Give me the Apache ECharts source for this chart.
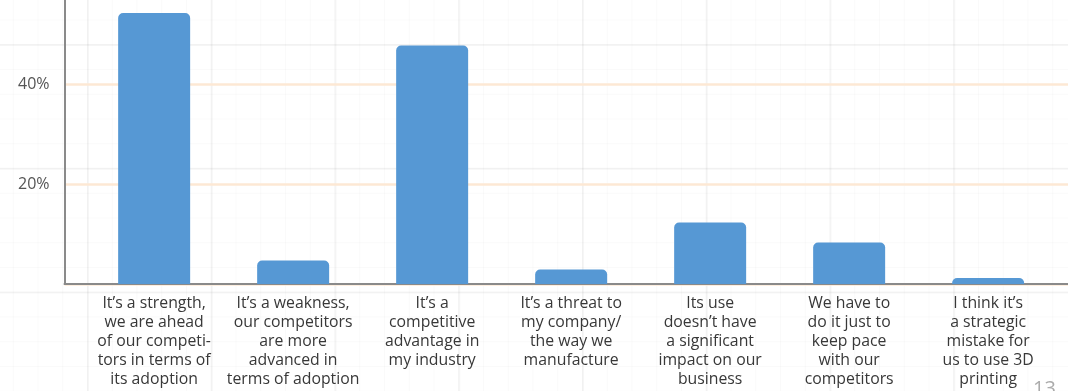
<!DOCTYPE html>
<html>
<head>
<meta charset="utf-8">
<script src="https://cdn.jsdelivr.net/npm/echarts@6/dist/echarts.min.js"></script>
<style>
  html, body { margin: 0; padding: 0; background: #fff; }
  #chart {
    width: 1068px;
    height: 391px;
    background-color: #fff;
    /* faint slide grid behind the chart */
    background-image:
      linear-gradient(to right, rgba(0,0,0,0.035) 1.5px, transparent 1.5px),
      linear-gradient(to bottom, rgba(0,0,0,0.035) 1.5px, transparent 1.5px),
      linear-gradient(to right, rgba(0,0,0,0.018) 1px, transparent 1px),
      linear-gradient(to bottom, rgba(0,0,0,0.018) 1px, transparent 1px);
    background-size: 123.75px 100%, 100% 123.75px, 24.75px 100%, 100% 24.75px;
    background-position: 87px 0, 0 44px, 12.75px 0, 0 19.5px;
  }
</style>
</head>
<body>
<div id="chart"></div>
<script>
// Answer options (categories) and share of respondents (%)
const categories = [
  'It\u2019s a strength,\nwe are ahead\nof our competi-\ntors in terms of\nits adoption',
  'It\u2019s a weakness,\nour competitors\nare more\nadvanced in\nterms of adoption',
  'It\u2019s a\ncompetitive\nadvantage in\nmy industry',
  'It\u2019s a threat to\nmy company/\nthe way we\nmanufacture',
  'Its use\ndoesn\u2019t have\na significant\nimpact on our\nbusiness',
  'We have to\ndo it just to\nkeep pace\nwith our\ncompetitors',
  'I think it\u2019s\na strategic\nmistake for\nus to use 3D\nprinting'
];
const shares = [54.2, 4.7, 47.7, 2.9, 12.3, 8.3, 1.2];
const yTickLabels = { 20: '20%', 40: '40%' };
const pageNumber = '13';

const FONT = '"Open Sans", "Noto Sans", sans-serif';
const chart = echarts.init(document.getElementById('chart'), null, { renderer: 'canvas' });

const yRange = { min: 0, max: 60, interval: 20 };

chart.setOption({
  backgroundColor: 'transparent',
  animation: false,
  grid: [
    // frame: axis lines, y labels and gridlines
    { left: 64.5, right: 0, top: -16, bottom: 107, containLabel: false, outerBoundsMode: 'none' },
    // bars and category labels
    { left: 84.65, right: 10.35, top: -16, bottom: 107, containLabel: false, outerBoundsMode: 'none' }
  ],
  xAxis: [
    {
      gridIndex: 0, type: 'value', min: 0, max: 1,
      axisLine: { show: true, onZero: false, lineStyle: { color: '#8a8a8a', width: 2 } },
      axisTick: { show: false }, axisLabel: { show: false }, splitLine: { show: false }
    },
    {
      gridIndex: 1, type: 'category', data: categories,
      axisLine: { show: false }, axisTick: { show: false },
      axisLabel: {
        interval: 0, margin: 10, color: '#383838',
        fontFamily: FONT, fontSize: 15.8, lineHeight: 19, align: 'center'
      }
    }
  ],
  yAxis: [
    {
      gridIndex: 0, type: 'value', min: yRange.min, max: yRange.max, interval: yRange.interval,
      axisLine: { show: true, lineStyle: { color: '#8a8a8a', width: 2 } },
      axisTick: { show: false },
      axisLabel: {
        margin: 15, color: '#555', fontFamily: FONT, fontSize: 16,
        formatter: v => yTickLabels[v] || ''
      },
      splitLine: { show: true, lineStyle: { color: '#fde8d4', width: 2.5 } }
    },
    {
      gridIndex: 1, type: 'value', min: yRange.min, max: yRange.max, interval: yRange.interval,
      show: false, splitLine: { show: false }
    }
  ],
  series: [
    {
      type: 'bar', xAxisIndex: 1, yAxisIndex: 1,
      data: shares, barWidth: 72,
      itemStyle: { color: '#5698d4', borderRadius: [5, 5, 0, 0] }
    }
  ],
  graphic: [
    {
      type: 'text', left: 1033, top: 379, silent: true,
      style: { text: pageNumber, fill: '#ababab', font: '20px ' + FONT }
    }
  ]
});
</script>
</body>
</html>
